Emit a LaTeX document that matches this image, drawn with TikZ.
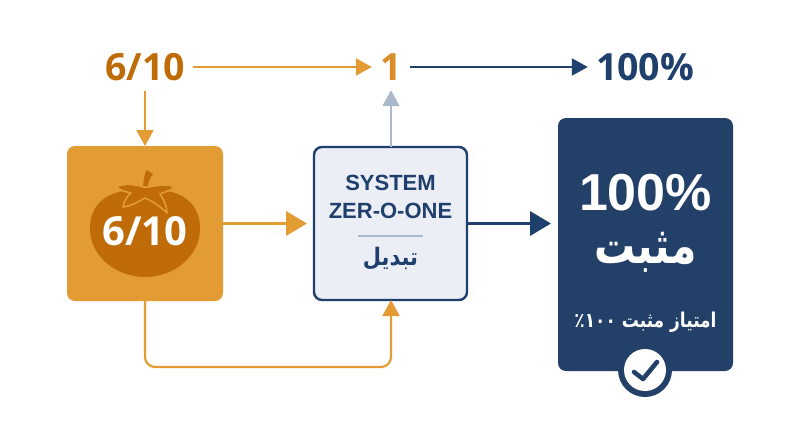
\documentclass[tikz,border=0pt]{standalone}
\usepackage{fontspec}
\usepackage{graphicx}
\setmainfont{Open Sans}
\newfontfamily\arfont[Script=Arabic]{DejaVu Sans}
\newfontfamily\lsfont{Liberation Sans}
\TeXXeTstate=1
\usetikzlibrary{arrows.meta,calc}
\definecolor{navy}{HTML}{1F3F6D}
\definecolor{boxblue}{HTML}{234069}
\definecolor{amber}{HTML}{E39C34}
\definecolor{darkamber}{HTML}{BF6B08}
\definecolor{palebox}{HTML}{EBEEF4}
\definecolor{greyblue}{HTML}{AAB8CC}
\newcommand{\fs}[1]{\fontsize{#1}{#1}\selectfont}
\tikzset{
  thin arrow/.style={line width=2.2pt,-{Triangle[length=16pt,width=17pt]}},
  thick arrow/.style={line width=3.6pt,-{Triangle[length=21pt,width=24pt]}},
  toplabel/.style={inner sep=0pt,font=\bfseries\fs{37.5}},
  panel/.style={rectangle,rounded corners=8pt,inner sep=0pt,outer sep=0pt},
  systext/.style={inner sep=0pt,text=navy,font=\lsfont\bfseries\fs{22}},
}
\begin{document}
\begin{tikzpicture}[x=1pt,y=-1pt]
\useasboundingbox (0,0) rectangle (800,447);
\fill[white] (0,0) rectangle (800,447);
% top row
\node[toplabel,text=darkamber,minimum width=96pt,minimum height=48pt] (t6) at (145,67) {6/10};
\node[toplabel,text=amber!70!darkamber,minimum width=38pt,minimum height=46pt] (t1) at (391,67) {1};
\node[toplabel,text=navy,minimum width=94pt] (t100) at (645,67) {100\%};
% panels
\node[panel,fill=amber,minimum width=156pt,minimum height=155pt] (orange) at (145,223.5) {};
\node[panel,fill=palebox,draw=navy,line width=2.4pt,minimum width=153pt,minimum height=153pt] (sys) at (390.5,223.5) {};
\node[panel,fill=boxblue,minimum width=175pt,minimum height=253pt] (result) at (645.5,244.5) {};
% tomato
\fill[darkamber] (145,192) .. controls (172,186) and (200,198) .. (200,228)
  .. controls (200,258) and (172,277) .. (145,277)
  .. controls (118,277) and (90,258) .. (90,228)
  .. controls (90,198) and (118,186) .. (145,192) -- cycle;
\fill[darkamber] (143,187) .. controls (144,179) and (144,174) .. (147,170)
  -- (153,174) .. controls (150,178) and (148,182) .. (148,187) -- cycle;
\filldraw[fill=darkamber,draw=amber,line width=1.6pt,line join=round]
  (116,187) .. controls (124,183) and (134,184) .. (143,187)
  .. controls (152,188) and (164,182) .. (175,187)
  .. controls (170,191) and (164,192) .. (160,194)
  .. controls (164,200) and (167,206) .. (167,213)
  .. controls (160,206) and (152,201) .. (145,198)
  .. controls (138,202) and (131,206) .. (123,207)
  .. controls (124,201) and (127,196) .. (131,193)
  .. controls (126,192) and (120,190) .. (116,187) -- cycle;
\node[inner sep=0pt,text=white,font=\bfseries\fs{40}] (t6in) at (145,231) {6/10};
% system text
\node[systext] (sysa) at (390.5,183) {SYSTEM};
\node[systext] (sysb) at (390.5,211) {ZER-O-ONE};
\coordinate (ruleL) at (358,236);
\coordinate (ruleR) at (423,236);
\draw[greyblue,line width=2pt] (ruleL) -- (ruleR);
\node[inner sep=0pt,text=navy,font=\arfont\bfseries\fs{21}] (sysc) at (390.5,259) {\scalebox{1}[1.15]{\beginR تبدیل\endR}};
% result text
\node[inner sep=0pt,text=white,font=\lsfont\bfseries\fs{52}] (rbig) at (645.5,193) {100\%};
\node[inner sep=0pt,text=white,font=\arfont\bfseries\fs{41}] (rword) at (645.5,252) {\scalebox{1}[1.25]{\beginR مثبت\endR}};
\node[inner sep=0pt,text=white,font=\arfont\bfseries\fs{17}] (rsub) at (645.5,322) {\scalebox{1}[1.2]{\beginR امتیاز مثبت \beginL ۱۰۰\endL٪\endR}};
% check badge
\node[circle,fill=boxblue,minimum size=54pt,inner sep=0pt] (badge) at (645,370) {};
\node[circle,fill=white,minimum size=42pt,inner sep=0pt] (badgein) at (badge.center) {};
\draw[boxblue,line width=4.6pt,line cap=round,line join=round]
  ($(badgein.center)+(-11,2)$) -- ($(badgein.center)+(-2,9)$) -- ($(badgein.center)+(12,-8)$);
% connectors
\draw[thin arrow,amber] (t6.east) -- (t1.west);
\draw[thin arrow,navy] (t1.east) -- ($(t100.west)+(-8,0)$);
\draw[thin arrow,amber] (t6.south) -- (orange.north);
\draw[thin arrow,greyblue] (sys.north -| t1.south) -- (t1.south);
\draw[thick arrow,amber] (orange.east) -- ($(sys.west)+(-7,0)$);
\draw[thick arrow,navy] (sys.east) -- ($(sys.east -| result.west)+(-7,0)$);
\draw[thin arrow,amber,rounded corners=10pt] (orange.south) -- ++(0,66) -| (sys.south -| t1.south);
\end{tikzpicture}
\end{document}
